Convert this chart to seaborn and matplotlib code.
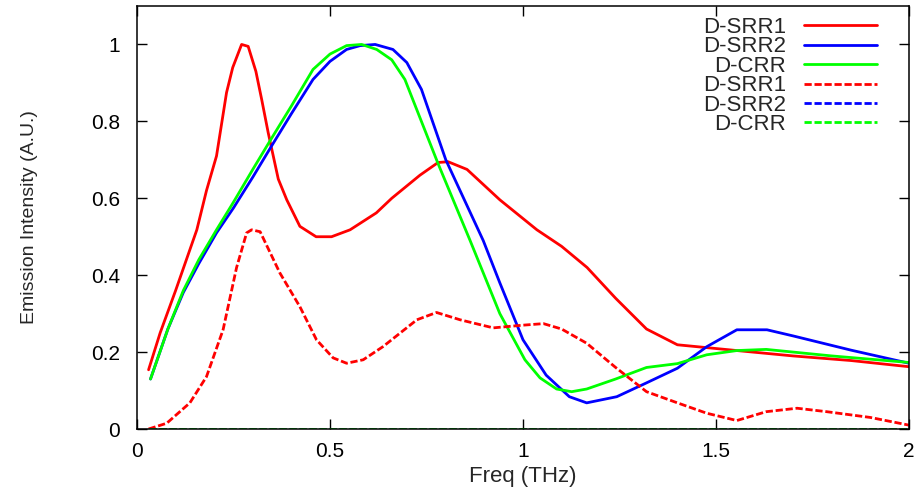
import matplotlib
matplotlib.use("Agg")
import matplotlib.pyplot as plt
import seaborn as sns
import numpy as np

# ---- data ----
srr1_x = [0.03, 0.06, 0.10, 0.155, 0.18, 0.206, 0.232, 0.248, 0.271, 0.288, 0.308, 0.323, 0.34,
          0.366, 0.388, 0.422, 0.464, 0.504, 0.552, 0.62, 0.66, 0.733, 0.78, 0.806, 0.855, 0.94,
          1.036, 1.10, 1.166, 1.24, 1.32, 1.40, 1.554, 1.70, 1.85, 2.0]
srr1_y = [0.154, 0.25, 0.36, 0.518, 0.62, 0.71, 0.875, 0.94, 1.0, 0.995, 0.93, 0.857, 0.77,
          0.65, 0.596, 0.527, 0.50, 0.50, 0.518, 0.562, 0.60, 0.66, 0.693, 0.695, 0.675, 0.596,
          0.518, 0.475, 0.42, 0.34, 0.26, 0.219, 0.204, 0.19, 0.178, 0.162]

srr2_x = [0.035, 0.08, 0.12, 0.16, 0.206, 0.25, 0.30, 0.345, 0.40, 0.456, 0.50, 0.543, 0.578,
          0.617, 0.663, 0.699, 0.737, 0.80, 0.897, 0.94, 1.0, 1.06, 1.12, 1.165, 1.243, 1.32,
          1.40, 1.476, 1.554, 1.632, 1.70, 1.85, 2.0]
srr2_y = [0.13, 0.26, 0.355, 0.43, 0.51, 0.575, 0.655, 0.73, 0.82, 0.909, 0.956, 0.987, 0.997,
          1.0, 0.987, 0.953, 0.883, 0.70, 0.49, 0.38, 0.232, 0.14, 0.084, 0.068, 0.084, 0.12,
          0.158, 0.214, 0.258, 0.258, 0.242, 0.205, 0.171]

crr_x = [0.035, 0.08, 0.12, 0.16, 0.206, 0.25, 0.30, 0.345, 0.40, 0.456, 0.50, 0.543, 0.582,
         0.621, 0.66, 0.694, 0.725, 0.78, 0.863, 0.94, 1.005, 1.044, 1.087, 1.126, 1.165, 1.24,
         1.32, 1.40, 1.476, 1.554, 1.63, 1.80, 2.0]
crr_y = [0.13, 0.26, 0.36, 0.44, 0.518, 0.59, 0.675, 0.75, 0.84, 0.935, 0.975, 0.997, 1.0,
         0.987, 0.96, 0.909, 0.83, 0.69, 0.49, 0.30, 0.18, 0.133, 0.104, 0.097, 0.104, 0.13,
         0.16, 0.17, 0.193, 0.204, 0.207, 0.19, 0.173]

srr1d_x = [0.03, 0.077, 0.137, 0.18, 0.223, 0.258, 0.284, 0.297, 0.319, 0.37, 0.422, 0.465,
           0.508, 0.543, 0.586, 0.637, 0.725, 0.776, 0.837, 0.923, 1.0, 1.053, 1.10, 1.165,
           1.24, 1.32, 1.40, 1.476, 1.554, 1.63, 1.71, 1.787, 1.90, 2.0]
srr1d_y = [0.0, 0.015, 0.068, 0.136, 0.258, 0.42, 0.51, 0.518, 0.513, 0.406, 0.318, 0.232,
           0.185, 0.171, 0.18, 0.214, 0.284, 0.303, 0.284, 0.263, 0.27, 0.274, 0.26, 0.223,
           0.16, 0.097, 0.068, 0.041, 0.022, 0.045, 0.054, 0.045, 0.03, 0.01]

zero_x = [0.03, 2.0]
srr2d_y = [0.0, 0.0]
crrd_y = [0.0, 0.0]

labels = ["D-SRR1", "D-SRR2", "D-CRR", "D-SRR1", "D-SRR2", "D-CRR"]
x_ticks = [0, 0.5, 1, 1.5, 2]
x_tick_labels = ["0", "0.5", "1", "1.5", "2"]
y_ticks = [0, 0.2, 0.4, 0.6, 0.8, 1.0]
y_tick_labels = ["0", "0.2", "0.4", "0.6", "0.8", "1"]

# ---- style ----
sns.set_style("ticks")
plt.rcParams["font.family"] = ["Liberation Sans", "DejaVu Sans"]

fig = plt.figure(figsize=(9.24, 4.94), dpi=100)
ax = fig.add_axes([137 / 924, 1 - 429 / 494, (909 - 137) / 924, (429 - 6) / 494])

RED, BLUE, GREEN = "#ff0000", "#0000ff", "#00ff00"
lw = 2.0
dash = (0, (2.6, 1.0))

series = [
    (srr1_x, srr1_y, RED, "-"),
    (srr2_x, srr2_y, BLUE, "-"),
    (crr_x, crr_y, GREEN, "-"),
    (srr1d_x, srr1d_y, RED, dash),
    (zero_x, srr2d_y, BLUE, dash),
    (zero_x, crrd_y, GREEN, dash),
]
handles = []
for (xs, ys, c, ls), lab in zip(series, labels):
    sns.lineplot(x=xs, y=ys, ax=ax, color=c, linewidth=lw, sort=False, estimator=None)
    line = ax.lines[-1]
    line.set_linestyle(ls)
    line.set_label(lab)
    handles.append(line)

ax.set_xlim(0, 2)
ax.set_ylim(0, 1.1)
ax.set_xticks(x_ticks)
ax.set_xticklabels(x_tick_labels)
ax.set_yticks(y_ticks)
ax.set_yticklabels(y_tick_labels)
ax.tick_params(direction="in", length=7, width=1, top=True, right=True,
               labelsize=15, colors="black")
ax.tick_params(axis="y", pad=12)
ax.tick_params(axis="x", pad=9)
for s in ax.spines.values():
    s.set_visible(True)
    s.set_linewidth(1.1)
    s.set_color("black")

ax.set_xlabel("Freq (THz)", fontsize=16, labelpad=4)
ax.set_ylabel("Emission Intensity (A.U.)", fontsize=14)
ax.yaxis.set_label_coords(-0.128, 0.5)

leg = ax.legend(handles=handles, labels=labels, loc="upper right",
                bbox_to_anchor=(0.9585, 0.974), borderaxespad=0, borderpad=0,
                frameon=False, markerfirst=False, fontsize=16,
                handlelength=3.3, handletextpad=0.8, labelspacing=-0.07)
for t in leg.get_texts():
    t.set_ha("right")

fig.savefig("out.png", dpi=100)
